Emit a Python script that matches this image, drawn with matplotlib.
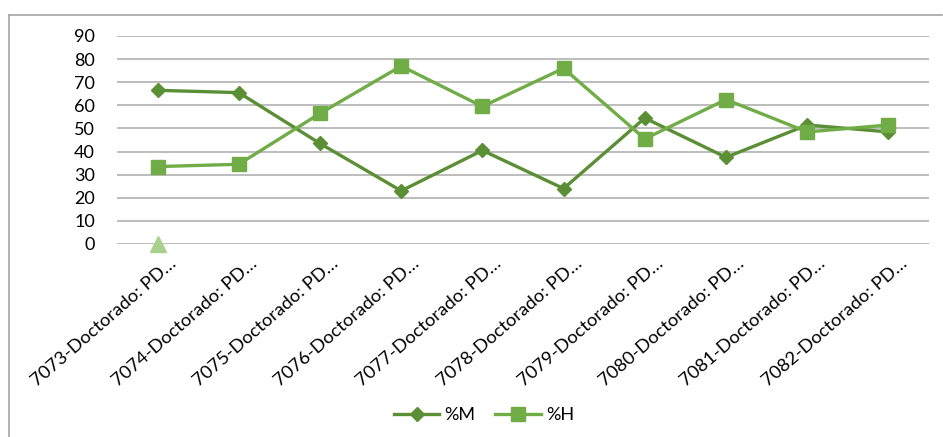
import matplotlib
matplotlib.use('Agg')
import matplotlib.pyplot as plt
import matplotlib.transforms as mtransforms
from matplotlib.lines import Line2D

codes = ['7073', '7074', '7075', '7076', '7077', '7078', '7079', '7080', '7081', '7082']
labels = [c + '-Doctorado: PD…' for c in codes]
pct_m = [66.5, 65.5, 43.5, 23, 40.5, 24, 54.5, 37.5, 51.5, 48.5]
pct_h = [33.5, 34.5, 56.5, 77, 59.5, 76, 45.5, 62.5, 48.5, 51.5]
# third series only has a value at the first category
extra_x = [0]
extra_y = [0]

plt.rcParams['font.family'] = ['Lato', 'DejaVu Sans']

fig = plt.figure(figsize=(9.43, 4.37), dpi=100)
ax = fig.add_axes([117 / 943, 1 - 244 / 437, (929 - 117) / 943, (244 - 36) / 437])

x = list(range(len(codes)))
ax.plot(x, pct_m, color='#5A8F35', lw=2.4, marker='D', ms=7.5, label='%M', zorder=3)
ax.plot(x, pct_h, color='#70AD47', lw=2.4, marker='s', ms=10, label='%H', zorder=3)
ax.plot(extra_x, extra_y, ls='none', marker='^', ms=11, color='#A9D18E', clip_on=False, zorder=4)

ax.set_xlim(-0.5, len(codes) - 0.5)
ax.set_ylim(0, 90)
ax.set_yticks(range(0, 91, 10))
ax.yaxis.grid(True, color='#ABABAB', lw=1.1)
ax.set_axisbelow(True)
for s in ax.spines.values():
    s.set_visible(False)
ax.tick_params(length=0, labelsize=13, colors='black')
ax.tick_params(axis='y', pad=16)
ax.set_xticks(x)
ax.set_xticklabels(labels, rotation=41, ha='right', rotation_mode='anchor', fontsize=13.3)
shift = mtransforms.ScaledTranslation(11 / 100, -6 / 100, fig.dpi_scale_trans)
for t in ax.get_xticklabels():
    t.set_transform(t.get_transform() + shift)

handles = [
    Line2D([], [], color='#5A8F35', lw=2.4, marker='D', ms=7.5),
    Line2D([], [], color='#70AD47', lw=2.4, marker='s', ms=10),
]
fig.legend(handles, ['%M', '%H'], loc='center', bbox_to_anchor=(484 / 943, 1 - 415 / 437),
           ncol=2, frameon=False, fontsize=13, handlelength=2.5, columnspacing=1.1, handletextpad=0.3)

# outer chart frame (top and left edges visible)
fig.add_artist(Line2D([9 / 943, 942 / 943], [1 - 15 / 437, 1 - 15 / 437], color='#A6A6A6', lw=1.2))
fig.add_artist(Line2D([9 / 943, 9 / 943], [1 - 15 / 437, 0], color='#A6A6A6', lw=1.2))

fig.savefig('out.png', dpi=100)
